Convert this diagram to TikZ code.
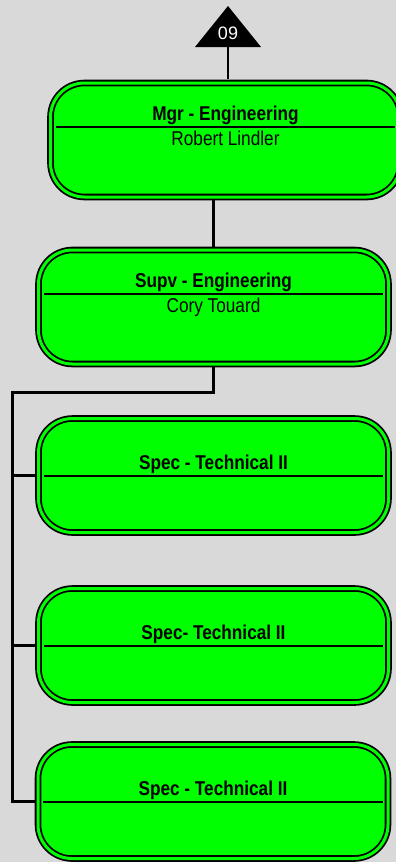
\documentclass[tikz,border=0pt]{standalone}
\usepackage{fontspec}
\setmainfont{Liberation Sans}
\newfontfamily\narrowfont[FakeStretch=0.86]{Liberation Sans}
\usetikzlibrary{positioning}
\definecolor{orggreen}{RGB}{0,255,0}
\definecolor{orggray}{RGB}{217,217,217}
\tikzstyle{position} = [rectangle, rounded corners=34pt, minimum width=350pt, minimum height=114pt, inner sep=0pt, draw=black, line width=1.8pt, double=orggreen, double distance=3pt, fill=orggreen]
\tikzstyle{title} = [anchor=base, inner sep=0pt, font=\narrowfont\bfseries\fontsize{20}{23}\selectfont]
\tikzstyle{holder} = [anchor=base, inner sep=0pt, font=\narrowfont\fontsize{20}{23}\selectfont]
\tikzstyle{divider} = [line width=2pt]
\tikzstyle{link} = [line width=3pt, line cap=rect]

\begin{document}
\begin{tikzpicture}[x=1pt, y=-1pt]
\fill[orggray] (0,0) rectangle (396,862);
\useasboundingbox (0,0) rectangle (396,862);
\clip (0,0) rectangle (396,862);

% Division tag
\fill[black] (195,47) -- (228,6) -- (261,47) -- cycle;
\coordinate (tag) at (228,47);
\node[text=white, font=\fontsize{18}{20}\selectfont, inner sep=0pt] (tagnum) at (228,33) {09};

% Manager
\node (mgr) [position] at (225.5,140) {};
\node (mgrtitle) [title] at ([yshift=19.5pt]mgr.center) {Mgr - Engineering};
\node (mgrname) [holder] at ([yshift=-5.5pt]mgr.center) {Robert Lindler};
\draw[divider] ([xshift=6pt,yshift=13pt]mgr.west) -- ([xshift=-6pt,yshift=13pt]mgr.east);

% Supervisor
\node (supv) [position, below of=mgr, node distance=167pt, xshift=-12pt] {};
\node (supvtitle) [title] at ([yshift=19.5pt]supv.center) {Supv - Engineering};
\node (supvname) [holder] at ([yshift=-5.5pt]supv.center) {Cory Touard};
\draw[divider] ([xshift=6pt,yshift=13pt]supv.west) -- ([xshift=-6pt,yshift=13pt]supv.east);

% Specialists
\node (specA) [position, below of=supv, node distance=168.5pt] {};
\node (specAtitle) [title] at ([yshift=6.5pt]specA.center) {Spec - Technical II};
\draw[divider] ([xshift=6pt]specA.west) -- ([xshift=-6pt]specA.east);

\node (specB) [position, below of=specA, node distance=170pt] {};
\node (specBtitle) [title] at ([yshift=6.5pt]specB.center) {Spec- Technical II};
\draw[divider] ([xshift=6pt]specB.west) -- ([xshift=-6pt]specB.east);

\node (specC) [position, below of=specB, node distance=156pt, xshift=-0.5pt] {};
\node (specCtitle) [title] at ([yshift=6.5pt]specC.center) {Spec - Technical II};
\draw[divider] ([xshift=6pt]specC.west) -- ([xshift=-6pt]specC.east);

% Reporting lines
\draw[line width=1.5pt, shorten >=3.5pt] (tag) -- (tag |- mgr.north);
\draw[link, shorten <=3.5pt, shorten >=3.5pt] (supv.north) -- (supv.north |- mgr.south);
\coordinate (bus) at (12,392);
\draw[link, shorten <=3.5pt, shorten >=3.5pt] (supv.south) |- (bus) |- (specC.west);
\draw[link, shorten >=3.5pt] (bus |- specA.west) -- (specA.west);
\draw[link, shorten >=3.5pt] (bus |- specB.west) -- (specB.west);

\end{tikzpicture}
\end{document}
